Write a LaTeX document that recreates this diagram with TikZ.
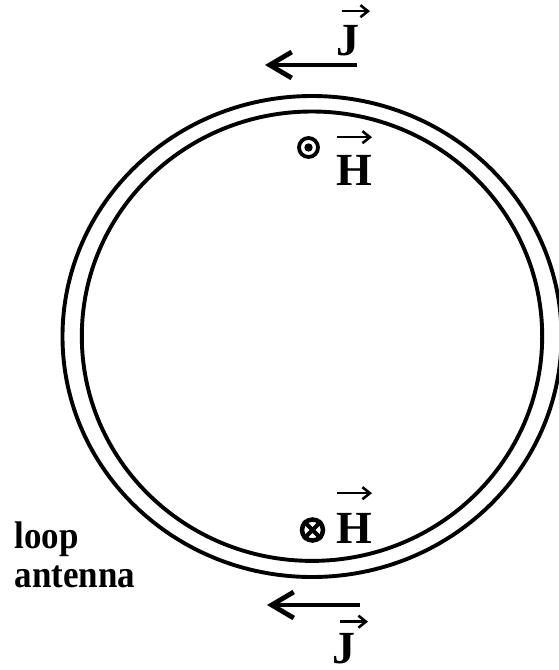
\documentclass[tikz,border=0pt]{standalone}
\usepackage{fontspec}
\setmainfont{Liberation Serif}
\usetikzlibrary{arrows.meta}

\begin{document}
\begin{tikzpicture}[x=1pt, y=-1pt,
    wire/.style={line width=3.9pt},
    bigarrow/.style={line width=4.8pt, -{Straight Barb[length=22pt,width=26pt]}},
    vecarrow/.style={line width=2.6pt, -{Straight Barb[length=7.5pt,width=12pt]}},
    vecletter/.style={font=\fontsize{46}{50}\selectfont\bfseries, inner sep=0pt, anchor=base west},
    caption/.style={font=\fontsize{35}{39}\selectfont\bfseries, inner sep=0pt, anchor=base west, yscale=1.1, transform shape}]
    \useasboundingbox (0,0) rectangle (559,670);

    % Loop antenna: two wires
    \draw[wire] (312,336.5) ellipse [x radius=249.5, y radius=240.5];
    \draw[wire] (312,336.2) ellipse [x radius=230.2, y radius=224.7];

    % Current arrows (top and bottom)
    \coordinate (Jtopstart) at (357,65);
    \coordinate (Jtopend) at (265,65);
    \draw[bigarrow] (Jtopstart) -- (Jtopend);
    \coordinate (Jbotstart) at (360,605);
    \coordinate (Jbotend) at (267,605);
    \draw[bigarrow] (Jbotstart) -- (Jbotend);

    % Vector labels J and H
    \node[vecletter] (Jtop) at (336,55) {J};
    \draw[vecarrow] ([xshift=6pt,yshift=13.5pt]Jtop.north west) -- ++(28,0);
    \node[vecletter] (Htop) at (336,185) {H};
    \draw[vecarrow] ([xshift=1pt,yshift=17.5pt]Htop.north west) -- ++(35,0);
    \node[vecletter] (Hbot) at (336,543) {H};
    \draw[vecarrow] ([xshift=1pt,yshift=19.5pt]Hbot.north west) -- ++(35,0);
    \node[vecletter] (Jbot) at (332,663) {J};
    \draw[vecarrow] ([xshift=8pt,yshift=11pt]Jbot.north west) -- ++(28,0);

    % Field out of the page (dot) and into the page (cross)
    \node[circle, draw, line width=3.8pt, minimum size=19pt, inner sep=0pt] (Hout) at (308.5,147.5) {};
    \fill (Hout.center) circle [radius=4.2];
    \node[circle, draw, line width=4.5pt, minimum size=21pt, inner sep=0pt] (Hin) at (312.5,530) {};
    \draw[line width=4pt] (Hin.45) -- (Hin.225);
    \draw[line width=4pt] (Hin.135) -- (Hin.315);

    % Caption
    \node[caption] (loop) at (14.5,548) {loop};
    \node[caption] (antenna) at (14.5,587) {antenna};
\end{tikzpicture}
\end{document}
